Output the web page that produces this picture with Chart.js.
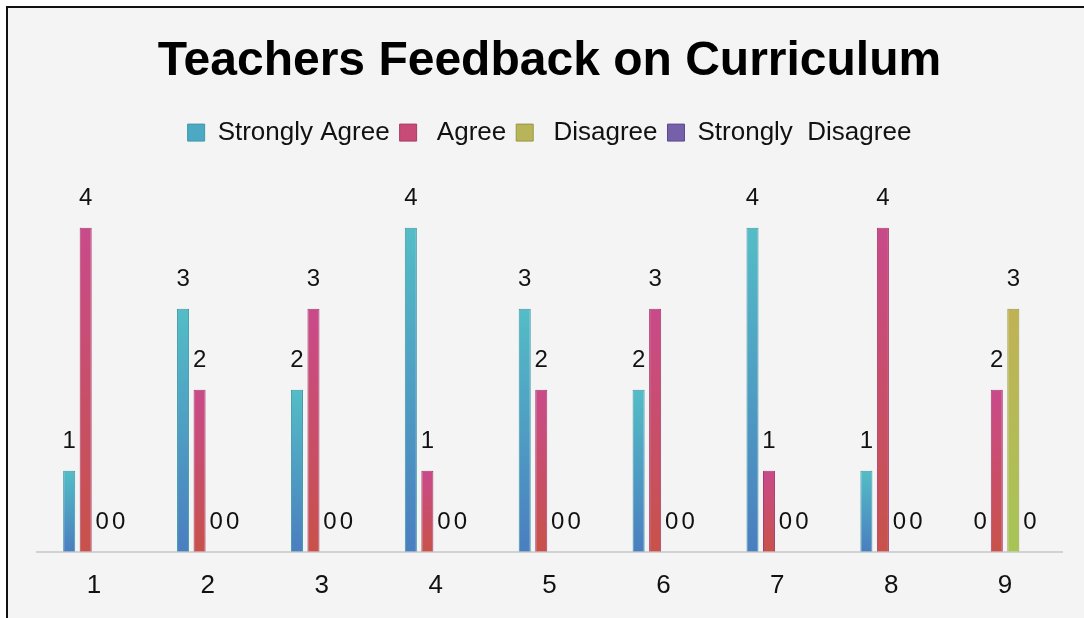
<!DOCTYPE html>
<html>
<head>
<meta charset="utf-8">
<script src="https://cdn.jsdelivr.net/npm/chart.js@4.4.1/dist/chart.umd.min.js"></script>
<style>
  html, body { margin: 0; padding: 0; background: #fff; }
  #frame {
    position: absolute; left: 6px; top: 6px;
    width: 1076px; height: 610px;
    border-left: 2px solid #111; border-top: 2px solid #111;
    background: #f4f4f4;
    overflow: hidden;
  }
  #chart { display: block; }
</style>
</head>
<body>
<div id="frame"><canvas id="chart" width="1076" height="611"></canvas></div>
<script>
// --- DATA ---
const categories = ['1', '2', '3', '4', '5', '6', '7', '8', '9'];
const seriesNames = ['Strongly Agree', ' Agree', ' Disagree', 'Strongly  Disagree'];
const stronglyAgree = [1, 3, 2, 4, 3, 2, 4, 1, 0];
const agree = [4, 2, 3, 1, 2, 3, 1, 4, 2];
const disagree = [0, 0, 0, 0, 0, 0, 0, 0, 3];
const stronglyDisagree = [0, 0, 0, 0, 0, 0, 0, 0, 0];

// colours: top of bar, bottom of bar, border, legend swatch
const palette = [
    { top: '#53bdc6', bottom: '#4a7ec0', border: '#3f98a6', swatch: '#4ba9c4' },
    { top: '#c94a8a', bottom: '#c8524a', border: '#a63c6c', swatch: '#c84a76' },
    { top: '#c1b155', bottom: '#a6c556', border: '#98983e', swatch: '#b8b45a' },
    { top: '#7e62ae', bottom: '#6f5aa6', border: '#5d4a8e', swatch: '#7760aa' }
];

// gradient per bar, from its top down to the baseline
const barGradient = (p) => (ctx) => {
    const chart = ctx.chart;
    const y = chart.scales && chart.scales.y;
    if (!chart.chartArea || !y || ctx.raw == null) return p.top;
    const y0 = y.getPixelForValue(0);
    const y1 = y.getPixelForValue(ctx.raw);
    if (!isFinite(y0) || !isFinite(y1) || y0 === y1) return p.top;
    const g = chart.ctx.createLinearGradient(0, y1, 0, y0);
    g.addColorStop(0, p.top);
    g.addColorStop(1, p.bottom);
    return g;
};

// --- DATA LABELS ---
const valueLabels = {
    id: 'valueLabels',
    afterDatasetsDraw(chart) {
        const ctx = chart.ctx;
        ctx.save();
        ctx.font = "24px 'Liberation Sans', Arial, sans-serif";
        ctx.fillStyle = '#111';
        ctx.textAlign = 'center';
        ctx.textBaseline = 'middle';
        chart.data.datasets.forEach((ds, i) => {
            const meta = chart.getDatasetMeta(i);
            meta.data.forEach((bar, j) => {
                ctx.fillText(String(ds.data[j]), bar.x, bar.y - 29);
            });
        });
        ctx.restore();
    }
};

const seriesData = [stronglyAgree, agree, disagree, stronglyDisagree];

new Chart(document.getElementById('chart'), {
    type: 'bar',
    data: {
        labels: categories,
        datasets: seriesData.map((d, i) => ({
            label: seriesNames[i],
            data: d,
            backgroundColor: barGradient(palette[i]),
            borderColor: palette[i].border,
            borderWidth: 1,
            categoryPercentage: 0.58,
            barPercentage: 0.73
        }))
    },
    plugins: [valueLabels],
    options: {
        responsive: false,
        animation: false,
        layout: { padding: { left: 29, right: 22, top: 0, bottom: 0 } },
        plugins: {
            title: {
                display: true,
                text: 'Teachers Feedback on Curriculum',
                color: '#000',
                font: { family: "'Liberation Sans', Arial, sans-serif", size: 48, weight: 'bold' },
                padding: { top: 25, bottom: 19 }
            },
            legend: {
                position: 'top',
                labels: {
                    color: '#111',
                    font: { family: "'Liberation Sans', Arial, sans-serif", size: 26 },
                    boxWidth: 17,
                    boxHeight: 17,
                    padding: 10,
                    generateLabels: (chart) => chart.data.datasets.map((ds, i) => ({
                        text: ds.label,
                        fillStyle: palette[i].swatch,
                        strokeStyle: palette[i].border,
                        lineWidth: 1,
                        fontColor: '#111',
                        datasetIndex: i,
                        hidden: false
                    }))
                }
            },
            tooltip: { enabled: false }
        },
        scales: {
            y: { display: false, min: 0, max: 4.89 },
            x: {
                grid: { display: false, drawTicks: false },
                border: { display: true, color: '#d2d2d2', width: 2 },
                ticks: {
                    color: '#111',
                    padding: 18,
                    font: { family: "'Liberation Sans', Arial, sans-serif", size: 26 }
                }
            }
        }
    }
});
</script>
</body>
</html>
